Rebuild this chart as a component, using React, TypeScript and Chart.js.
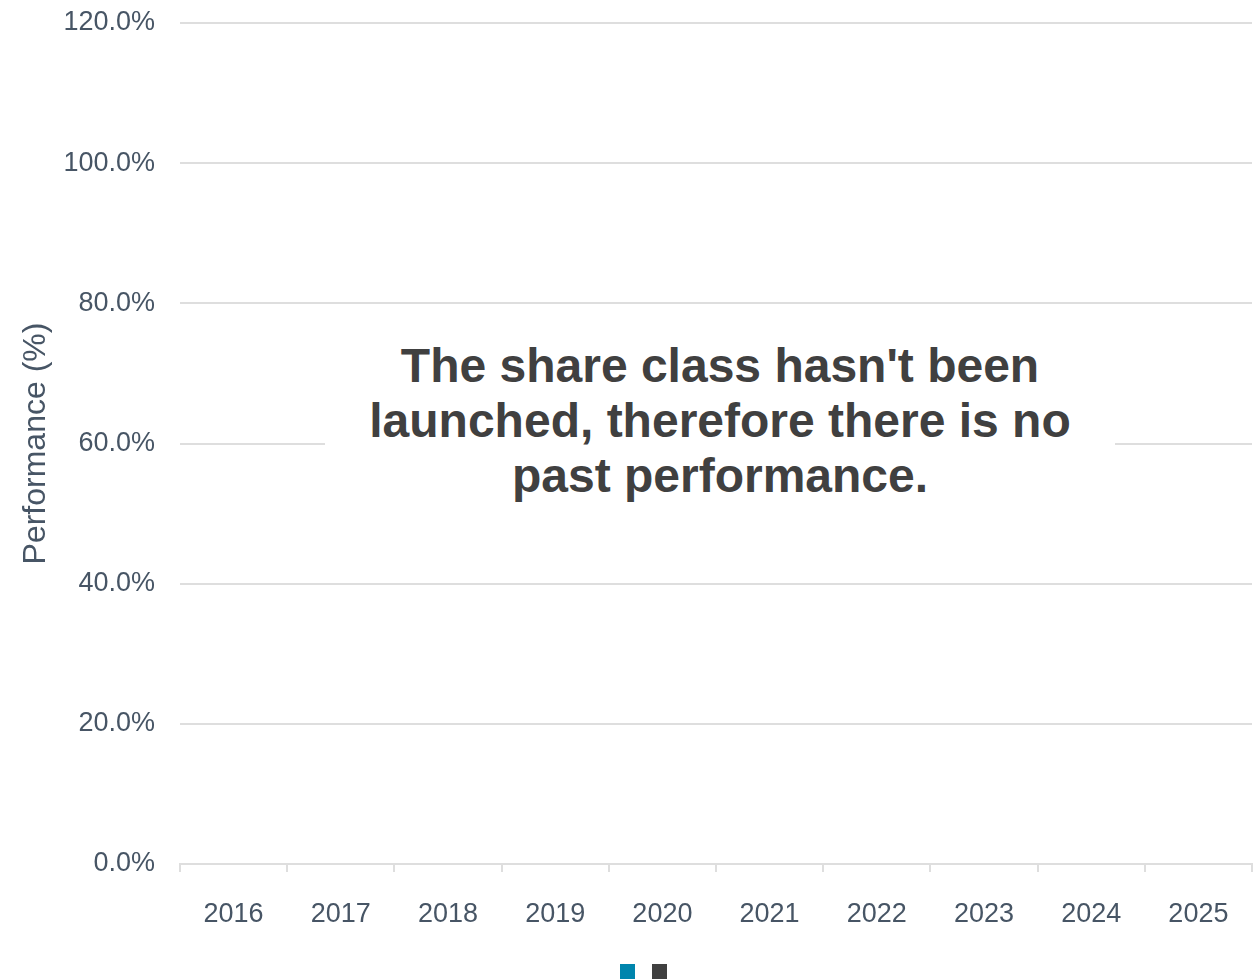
import React, { useEffect, useRef } from 'react';
import { Chart, registerables } from 'chart.js';

Chart.register(...registerables);

// ---- data ----
const years: string[] = ['2016', '2017', '2018', '2019', '2020', '2021', '2022', '2023', '2024', '2025'];
const shareClassReturns: (number | null)[] = [null, null, null, null, null, null, null, null, null, null];
const benchmarkReturns: (number | null)[] = [null, null, null, null, null, null, null, null, null, null];
const seriesLabels: string[] = ['', ''];
const seriesColors: string[] = ['#0085AD', '#404040'];
const yAxisMin = 0;
const yAxisMax = 120;
const yAxisStep = 20;
const yAxisTitle = 'Performance (%)';
const messageLines: string[] = [
  "The share class hasn't been",
  'launched, therefore there is no',
  'past performance.',
];

const FONT = "Arial, 'Liberation Sans', Helvetica, sans-serif";
const TICK_COLOR = '#475565';
const GRID_COLOR = '#dedede';

const legendShift = {
  id: 'legendShift',
  afterLayout(chart: any) {
    const lg = chart.legend;
    if (lg) {
      lg.left += 20.5;
      lg.right += 20.5;
    }
  },
};

export default function App() {
  const canvasRef = useRef<HTMLCanvasElement | null>(null);

  useEffect(() => {
    if (!canvasRef.current) return;
    const chart = new Chart(canvasRef.current, {
      type: 'bar',
      data: {
        labels: years,
        datasets: [
          { label: seriesLabels[0], data: shareClassReturns, backgroundColor: seriesColors[0], borderWidth: 0 },
          { label: seriesLabels[1], data: benchmarkReturns, backgroundColor: seriesColors[1], borderWidth: 0 },
        ],
      },
      options: {
        responsive: false,
        animation: false,
        layout: { padding: { top: 23, right: 8, left: 0, bottom: 0 } },
        plugins: {
          legend: {
            display: true,
            position: 'bottom',
            labels: {
              boxWidth: 15,
              boxHeight: 15,
              padding: 11,
              font: { size: 12, family: FONT },
            },
          },
          tooltip: { enabled: false },
          title: { display: false },
        },
        scales: {
          x: {
            offset: true,
            grid: {
              offset: true,
              drawOnChartArea: false,
              drawTicks: true,
              tickLength: 8,
              color: GRID_COLOR,
              lineWidth: 2,
            },
            border: { display: true, color: GRID_COLOR, width: 2 },
            ticks: {
              color: TICK_COLOR,
              padding: 26,
              maxRotation: 0,
              font: { size: 27, family: FONT },
            },
            afterFit: (scale: any) => {
              scale.height = 89;
            },
          },
          y: {
            min: yAxisMin,
            max: yAxisMax,
            grid: { color: GRID_COLOR, lineWidth: 2, drawTicks: false },
            border: { display: false },
            ticks: {
              stepSize: yAxisStep,
              color: TICK_COLOR,
              padding: 25,
              font: { size: 27, family: FONT },
              callback: (v: any) => Number(v).toFixed(1) + '%',
            },
            title: {
              display: true,
              text: yAxisTitle,
              color: TICK_COLOR,
              font: { size: 32, family: FONT },
              padding: { top: 17, bottom: 0 },
            },
            afterFit: (scale: any) => {
              scale.width = 180;
              scale.paddingTop = 0;
              scale.paddingBottom = 0;
            },
          },
        },
      },
      plugins: [legendShift],
    });
    return () => chart.destroy();
  }, []);

  return (
    <div style={{ position: 'absolute', left: 0, top: 0, width: 1260, height: 979, overflow: 'hidden', background: '#ffffff' }}>
      <canvas ref={canvasRef} width={1260} height={989} style={{ display: 'block', width: 1260, height: 989 }} />
      <div
        style={{
          position: 'absolute',
          left: 325,
          top: 330,
          width: 790,
          height: 181,
          boxSizing: 'border-box',
          paddingTop: 8,
          background: '#ffffff',
          color: '#404040',
          fontFamily: FONT,
          fontWeight: 'bold',
          fontSize: 48,
          lineHeight: '55.2px',
          textAlign: 'center',
        }}
      >
        {messageLines.map((line, i) => (
          <div key={i}>{line}</div>
        ))}
      </div>
    </div>
  );
}
